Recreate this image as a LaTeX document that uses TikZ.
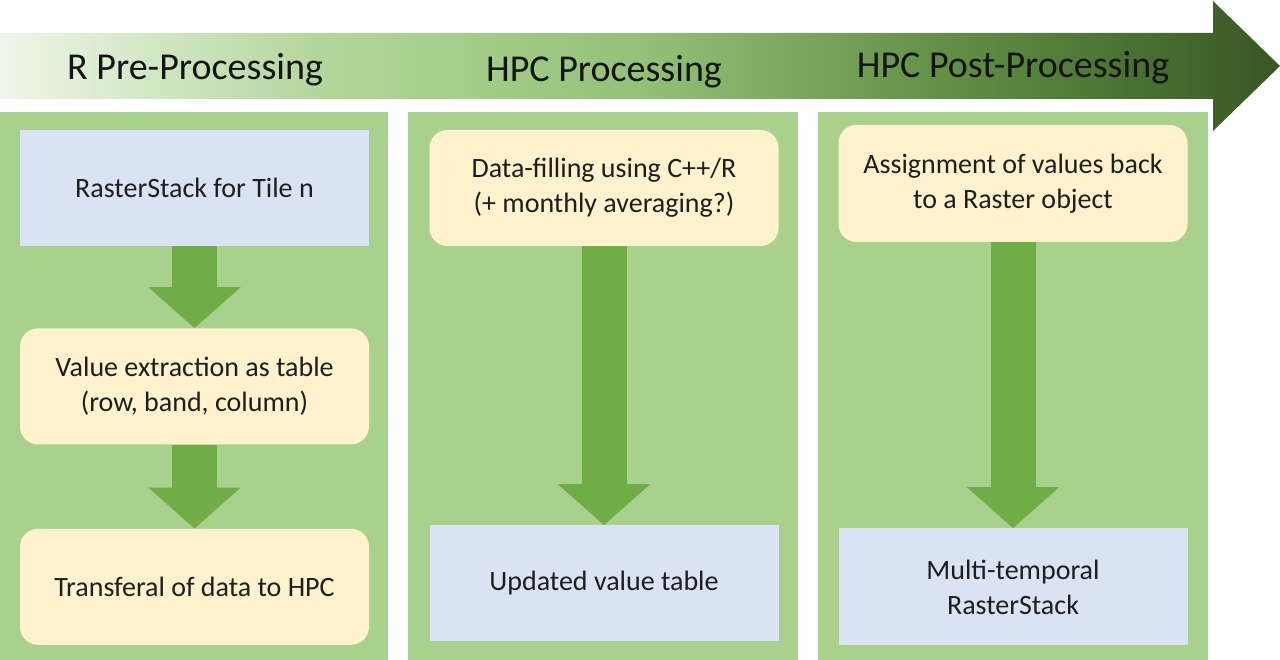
\documentclass[tikz,border=0pt]{standalone}
\usepackage{fontspec}
\setmainfont{Carlito}
\usetikzlibrary{arrows.meta,positioning}
\definecolor{flowgreen}{HTML}{A9D18E}
\definecolor{flowdark}{HTML}{70AD47}
\definecolor{flowblue}{HTML}{DAE3F3}
\definecolor{flowyellow}{HTML}{FFF2CC}
\definecolor{flowtext}{HTML}{1E1E1E}
\definecolor{bannerA}{HTML}{EEF6E9}
\definecolor{bannerB}{HTML}{B3D69B}
\definecolor{bannerC}{HTML}{93C176}
\definecolor{bannerD}{HTML}{5F8E43}
\definecolor{bannerE}{HTML}{385723}
\pgfdeclarehorizontalshading{bannershade}{100bp}{color(0bp)=(bannerA); color(25bp)=(bannerA);
  color(37.5bp)=(bannerB); color(50bp)=(bannerC); color(62.5bp)=(bannerD); color(75bp)=(bannerE); color(100bp)=(bannerE)}
\tikzset{
  panel/.style={fill=flowgreen,anchor=south west,inner sep=0pt,minimum height=548pt},
  stage/.style={font=\fontsize{28}{35}\selectfont,text=flowtext,align=center,minimum width=349pt,minimum height=116pt,inner sep=0pt},
  data/.style={stage,fill=flowblue},
  task/.style={stage,fill=flowyellow,rounded corners=18pt},
  phase/.style={font=\fontsize{38}{46}\selectfont,text=black!92,anchor=base},
  flow/.style={-{Triangle[width=90pt,length=41pt]},line width=45pt,flowdark}
}
\begin{document}
\begin{tikzpicture}[x=1pt,y=1pt]
  \useasboundingbox (0,0) rectangle (1280,660);

  % timeline banner
  \path[shading=bannershade] (0,561) -- (1213,561) -- (1213,529) -- (1280,594)
    -- (1213,659) -- (1213,627) -- (0,627) -- cycle;
  \node[phase] (pretitle) at (195,580) {R Pre-Processing};
  \node[phase] (hpctitle) at (604,578) {HPC Processing};
  \node[phase] (posttitle) at (1013,582) {HPC Post-Processing};

  % columns
  \node[panel,minimum width=388pt] (pre) at (0,0) {};
  \node[panel,minimum width=390pt] (hpc) at (408,0) {};
  \node[panel,minimum width=390pt] (post) at (818,0) {};

  % R pre-processing
  \node[data] (tile) at (194.5,472) {RasterStack for Tile n};
  \node[task,below=82pt of tile] (extract) {Value extraction as table\\(row, band, column)};
  \node[task,below=84pt of extract] (transfer) {Transferal of data to HPC};

  % HPC processing
  \node[task] (filling) at (604,472) {Data-filling using C++/R\\(+ monthly averaging?)};
  \node[data,below=279pt of filling] (updated) {Updated value table};

  % HPC post-processing
  \node[task,minimum height=117pt] (assign) at (1013,476.5) {Assignment of values back\\to a Raster object};
  \node[data,minimum height=117pt,below=286pt of assign] (multi) {Multi-temporal\\RasterStack};

  \draw[flow] (tile) -- (extract);
  \draw[flow] (extract) -- (transfer);
  \draw[flow] (filling) -- (updated);
  \draw[flow] (assign) -- (multi);
\end{tikzpicture}
\end{document}
